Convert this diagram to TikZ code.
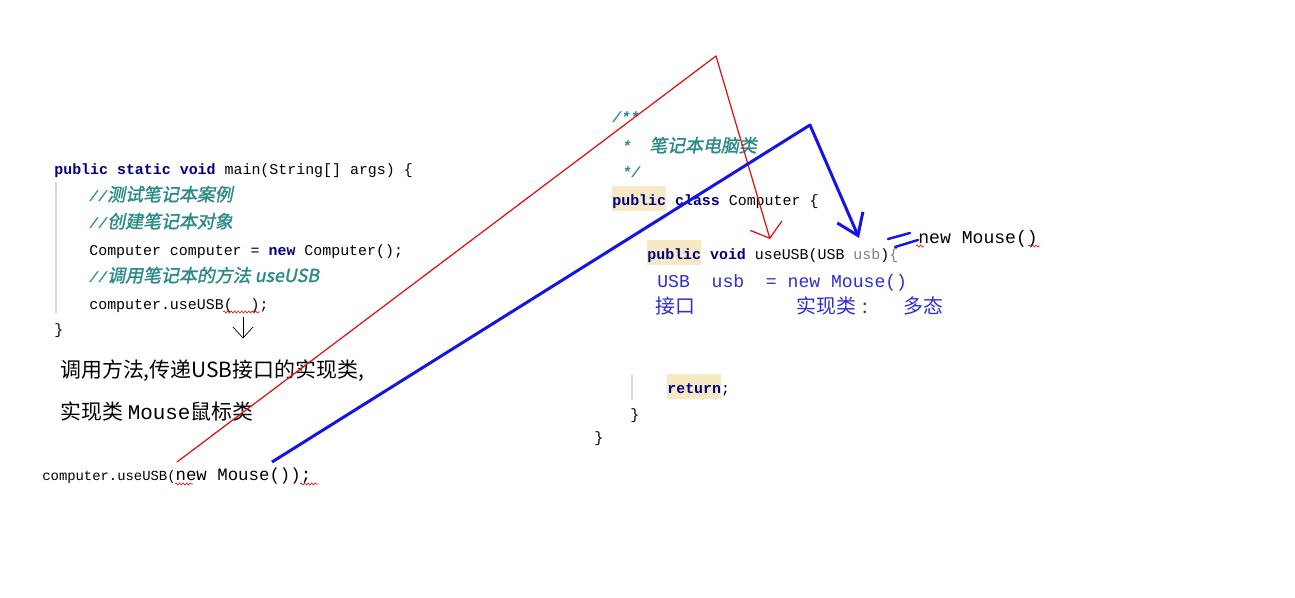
\documentclass[tikz,border=0pt]{standalone}
\usepackage{fontspec}
\setmonofont{Liberation Mono}
\newfontfamily\cjk{Noto Sans CJK SC}
\newfontfamily\cjkit[FakeSlant=0.2,FakeBold=1.5]{Noto Sans CJK SC}
\usetikzlibrary{arrows, arrows.meta, positioning, decorations.pathmorphing}
\definecolor{kwc}{HTML}{000080}
\definecolor{cmc}{HTML}{2A8A8A}
\definecolor{hlc}{HTML}{F6E9C3}
\definecolor{notec}{HTML}{2E2ED2}
\definecolor{linec}{HTML}{1414E6}
\definecolor{redc}{HTML}{E01010}
\definecolor{barc}{HTML}{D9D9D9}
\newcommand{\kw}[1]{{\bfseries\color{kwc}#1}}
\newcommand{\hlkw}[1]{{\setlength{\fboxsep}{0pt}\colorbox{hlc}{\rule[-3.5pt]{0pt}{14.5pt}\kw{#1}}}}
\newcommand{\cm}[1]{{\bfseries\itshape\color{cmc}#1}}
\newcommand{\cmcn}[1]{{\cjkit\fontsize{10.2}{12}\selectfont\color{cmc}#1}}

\begin{document}
\begin{tikzpicture}[x=0.02cm, y=-0.02cm]
	\tikzstyle{Code} = [anchor=base west, inner sep=0pt, font=\ttfamily\fontsize{8.5}{10}\selectfont]
	\tikzstyle{Note} = [anchor=base west, inner sep=0pt, font=\cjk\fontsize{11.9}{14}\selectfont]
	\tikzstyle{Blue} = [anchor=base west, inner sep=0pt, text=notec, font=\ttfamily\fontsize{10.3}{12}\selectfont]
	\tikzstyle{BlueCn} = [anchor=base west, inner sep=0pt, text=notec, font=\cjk\fontsize{11.3}{13}\selectfont]
	\tikzstyle{Bar} = [draw=barc, line width=0.6pt]
	\tikzstyle{Wave} = [draw=redc, line width=0.35pt, decorate, decoration={snake, amplitude=0.6pt, segment length=2pt}]
	\tikzstyle{RedArrow} = [draw=redc, line width=0.7pt, line join=round, -{Straight Barb[length=7.4pt, width=18.7pt]}]
	\tikzstyle{BlueArrow} = [draw=linec, line width=1.7pt, line join=round, -{Straight Barb[length=11.3pt, width=15.9pt]}]
	\tikzstyle{BlueMark} = [draw=linec, line width=1.4pt, line cap=round]

	\useasboundingbox [fill=white] (0,0) rectangle (1295,598);

	\node (main) [Code] at (54,174) {\kw{public static void} main(String[] args) \{};
	\node (cmA) [Code] at (89,201) {\cm{//}\cmcn{测试笔记本案例}};
	\node (cmB) [Code] at (89,228) {\cm{//}\cmcn{创建笔记本对象}};
	\node (newPc) [Code] at (89,255) {Computer computer = \kw{new} Computer();};
	\node (cmC) [Code] at (89,282) {\cm{//}\cmcn{调用笔记本的方法 useUSB}};
	\node (callA) [Code] at (89,309) {computer.useUSB(\ \ );};
	\node (mainEnd) [Code] at (54,334) {\}};
	\draw [Bar] (56,182) -- (56,313);
	\draw [Wave] (223,312) -- (260,312);
	\draw [thin] (243,317) -- (243,338);
	\draw [thin] (233,327) -- (243,338) -- (253,327);

	\node (noteA) [Note] at (60,377) {调用方法,传递USB接口的实现类,};
	\node (noteB) [Note] at (60,419) {实现类 {\ttfamily Mouse}鼠标类};
	\node (callB) [Code, font=\ttfamily\fontsize{7.9}{10}\selectfont] at (42,480) {computer.useUSB({\fontsize{9.9}{12}\selectfont new Mouse());}};
	\draw [Wave] (175,484) -- (193,484);
	\draw [Wave] (300,484) -- (318,484);

	\node (docA) [Code] at (612,123) {\cm{/**}};
	\node (docB) [Code] at (622,152) {\cm{*}\ \ \cmcn{笔记本电脑类}};
	\node (docC) [Code] at (622,177) {\cm{*/}};
	\node (cls) [Code] at (612,205) {\hlkw{public} \kw{class} Computer \{};
	\node (use) [Code] at (647,259) {\hlkw{public} \kw{void} useUSB(USB {\color{gray}usb}){\color{gray}\{}};
	\node (poly) [Blue] at (657,287) {USB\ \ usb\ \ = new Mouse()};
	\node (ifc) [BlueCn] at (655,313) {接口};
	\node (impl) [BlueCn] at (796,313) {实现类\hspace{4pt}:};
	\node (duo) [BlueCn] at (903,313) {多态};
	\node (newM) [Blue, text=black] at (918,243) {new Mouse()};
	\draw [Wave] (1028,246) -- (1040,246);
	\draw [Wave] (916,246) -- (924,246);
	\node (ret) [Code] at (667,393) {\hlkw{return};};
	\draw [Bar] (632,375) -- (632,400);
	\node (retEnd) [Code] at (630,419) {\}};
	\node (clsEnd) [Code] at (594,442) {\}};

	\coordinate (redA) at (177,462);
	\coordinate (redB) at (716,56);
	\coordinate (redC) at (770,239);
	\draw [RedArrow] (redA) -- (redB) -- (redC);

	\coordinate (blueA) at (272,462);
	\coordinate (blueB) at (810,125);
	\coordinate (blueC) at (859,238);
	\draw [BlueArrow] (blueA) -- (blueB) -- (blueC);
	\draw [BlueMark] (888,239) -- (910,233);
	\draw [BlueMark] (895,247) -- (918,240);
\end{tikzpicture}
\end{document}
